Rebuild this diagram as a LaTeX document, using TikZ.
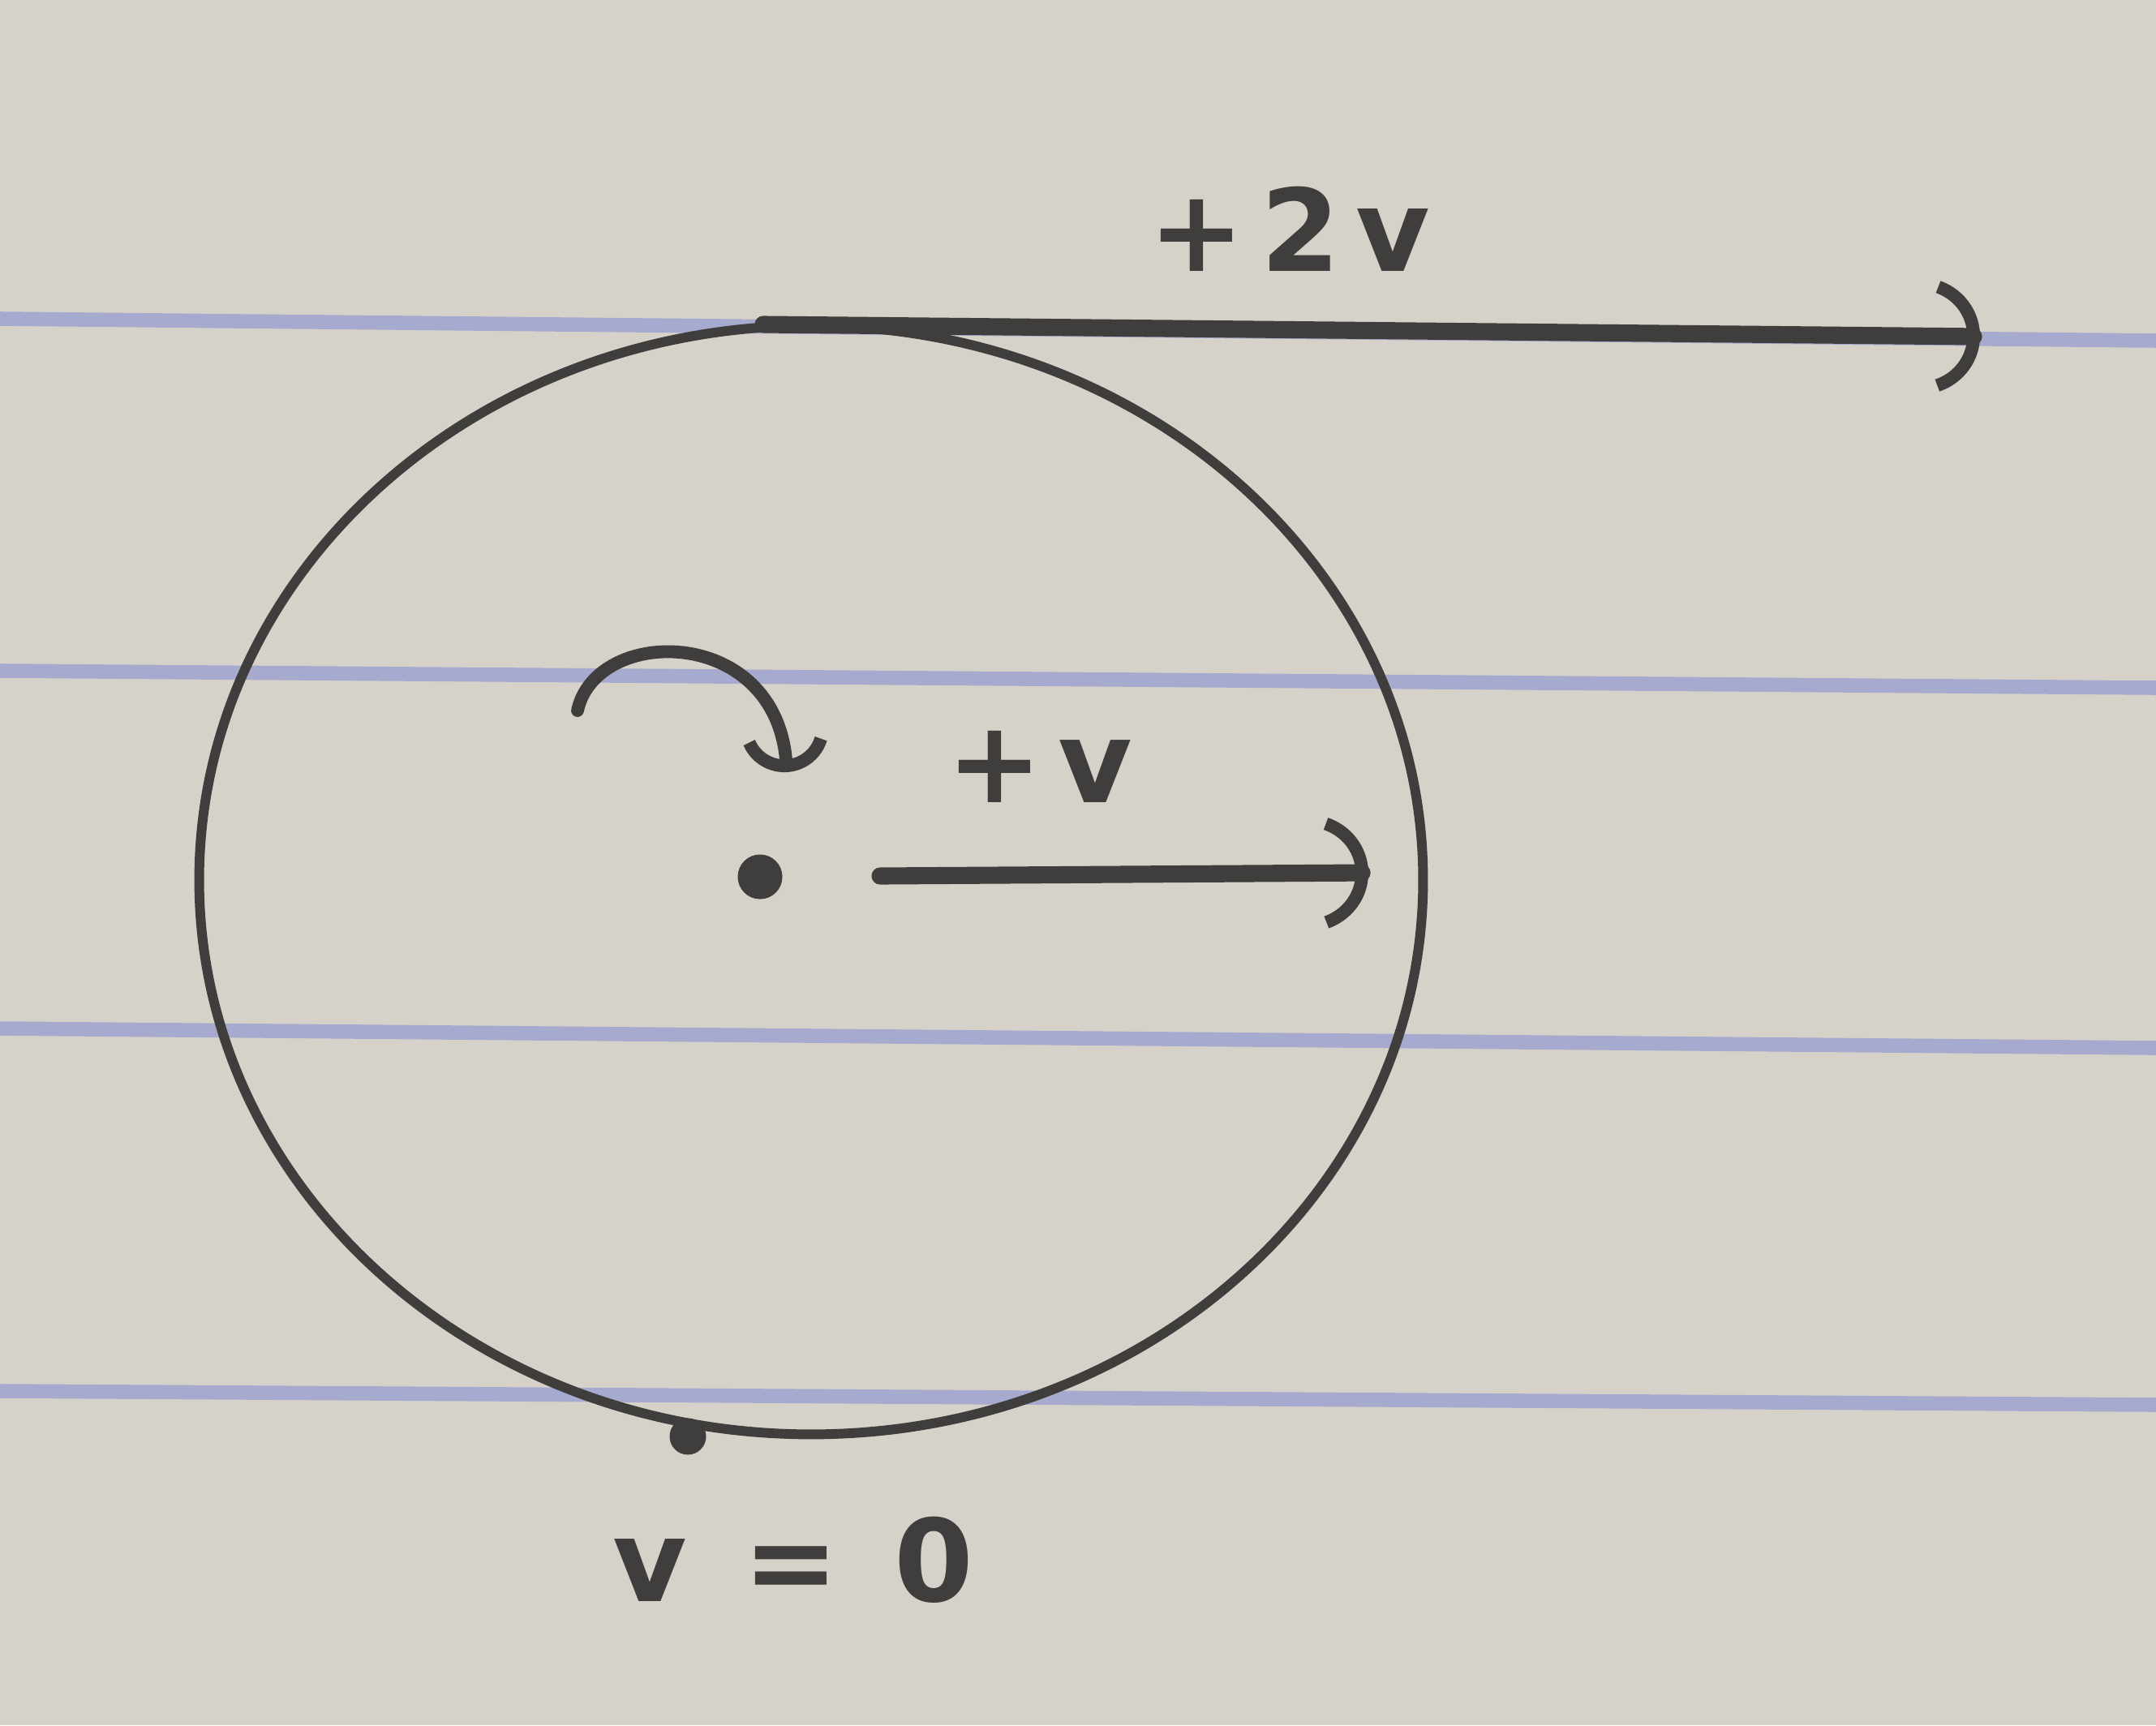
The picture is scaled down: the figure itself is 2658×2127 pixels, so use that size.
\documentclass[tikz,border=0pt]{standalone}
\usepackage{fontspec}
\usepackage[dvipsnames]{xcolor}
\usetikzlibrary{arrows.meta,shapes.geometric,positioning}
\newfontfamily\hand[LetterSpace=14]{DejaVu Sans}
\definecolor{paper}{RGB}{214,210,201}
\definecolor{rule}{RGB}{166,170,206}
\definecolor{pencil}{RGB}{64,61,61}

\begin{document}
\begin{tikzpicture}[x=0.01cm,y=-0.01cm,line cap=round,
    pencil line/.style={draw=pencil,line width=3.4pt},
    vel arrow/.style={draw=pencil,line width=6pt,-{Arc Barb[arc=140,length=0.75cm,width=1.45cm,line width=4.5pt]}},
    spin arrow/.style={draw=pencil,line width=4.5pt,-{Arc Barb[arc=140,length=0.55cm,width=1.1cm,line width=4.5pt]}},
    dot/.style={circle,fill=pencil,inner sep=0pt},
    label node/.style={text=pencil,font=\hand\bfseries\fontsize{40}{48}\selectfont,inner sep=0pt}]

                % paper
                \fill[paper] (0,0) rectangle (2658,2127);
                \useasboundingbox (0,0) rectangle (2658,2127);
                \draw[rule,line width=5pt] (0,393) -- (2658,420);
                \draw[rule,line width=5pt] (0,827) -- (2658,848);
                \draw[rule,line width=5pt] (0,1268) -- (2658,1292);
                \draw[rule,line width=5pt] (0,1715) -- (2658,1732);

                \node[ellipse, pencil line, minimum width=15.08cm, minimum height=13.66cm] (wheel) at (1000,1085) {};
                \node[dot, minimum size=0.55cm] (hub) at (937,1081) {};
                \node[dot, minimum size=0.45cm] (contact) at (848,1771) {};

                \coordinate (topstart) at (941,400);
                \coordinate (topend) at (2441,415);
                \coordinate (midstart) at (1085,1080);
                \coordinate (midend) at (1687,1076);
                \coordinate (spinstart) at (712,876);
                \coordinate (spinend) at (970,952);

                \node[label node] (twov) at (1590,282) {+2v};
                \node[label node] (onev) at (1282,945) {+v};
                \node[label node] (zerov) [below = 0.75cm of contact, xshift = 1.3cm] {v = 0};

                \draw[vel arrow] (topstart) -- (topend);
                \draw[vel arrow] (midstart) -- (midend);
                \draw[spin arrow] (spinstart) .. controls (735,770) and (960,770) .. (spinend);

\end{tikzpicture}
\end{document}
